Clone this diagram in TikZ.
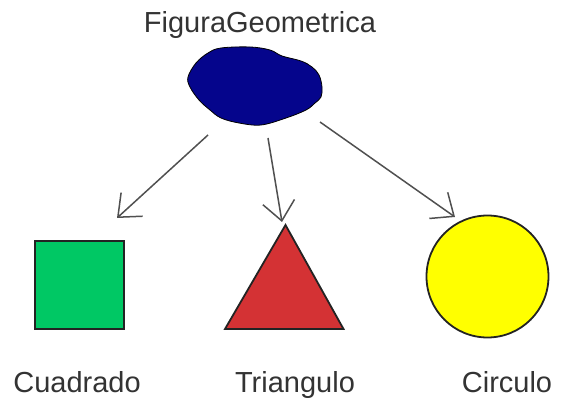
\documentclass[tikz,border=0pt]{standalone}
\usepackage{fontspec}
\setmainfont{Liberation Sans}
\usetikzlibrary{arrows.meta}
\definecolor{blobblue}{RGB}{5,5,140}
\definecolor{sqgreen}{RGB}{0,200,100}
\definecolor{trired}{RGB}{212,50,52}
\definecolor{circyellow}{RGB}{255,255,0}
\definecolor{arrowgray}{RGB}{80,80,80}
\definecolor{edgedark}{RGB}{35,35,35}
\tikzset{
  lbl/.style={font=\fontsize{29}{31}\selectfont, text=black!80, anchor=base, inner sep=0pt},
  shapeedge/.style={draw=edgedark, line width=1.8pt, line join=miter},
  link/.style={draw=arrowgray, line width=1.5pt, -{Straight Barb[length=19pt, width=32pt, line width=1.5pt]}}
}
\begin{document}
\begin{tikzpicture}[x=1pt, y=-1pt]
\useasboundingbox (0,0) rectangle (568,403);
% blob
\draw[fill=blobblue, draw=black, line width=0.8pt]
  plot[smooth cycle, tension=0.6] coordinates {
  (188,77) (196,63) (208,53) (221,48) (250,47) (270,50) (282,56) (301,61)
  (312,67) (319,75) (322,87) (321,97) (315,103) (306,110) (286,118) (261,125)
  (239,123) (221,118) (210,110) (199,100) (190,87)};
\node[lbl] (title) at (260,33) {FiguraGeometrica};
% shapes
\node[shapeedge, fill=sqgreen, minimum width=89pt, minimum height=88pt, inner sep=0pt] (sq) at (79.5,285) {};
\coordinate (triA) at (285.5,225);
\coordinate (triB) at (343.5,329);
\coordinate (triC) at (225,329);
\filldraw[shapeedge, fill=trired] (triA) -- (triB) -- (triC) -- cycle;
\node[shapeedge, fill=circyellow, circle, minimum size=122pt, inner sep=0pt] (circ) at (487.5,276.5) {};
% labels
\node[lbl] (lsq) at (77,393) {Cuadrado};
\node[lbl] (ltri) at (295,393) {Triangulo};
\node[lbl] (lcirc) at (507,393) {Circulo};
% arrows
\coordinate (s1) at (208,135);
\coordinate (e1) at (117,218);
\coordinate (s2) at (268,138);
\coordinate (e2) at (282,222);
\coordinate (s3) at (320,122);
\coordinate (e3) at (455,217);
\draw[link] (s1) -- (e1);
\draw[link] (s2) -- (e2);
\draw[link] (s3) -- (e3);
\end{tikzpicture}
\end{document}
